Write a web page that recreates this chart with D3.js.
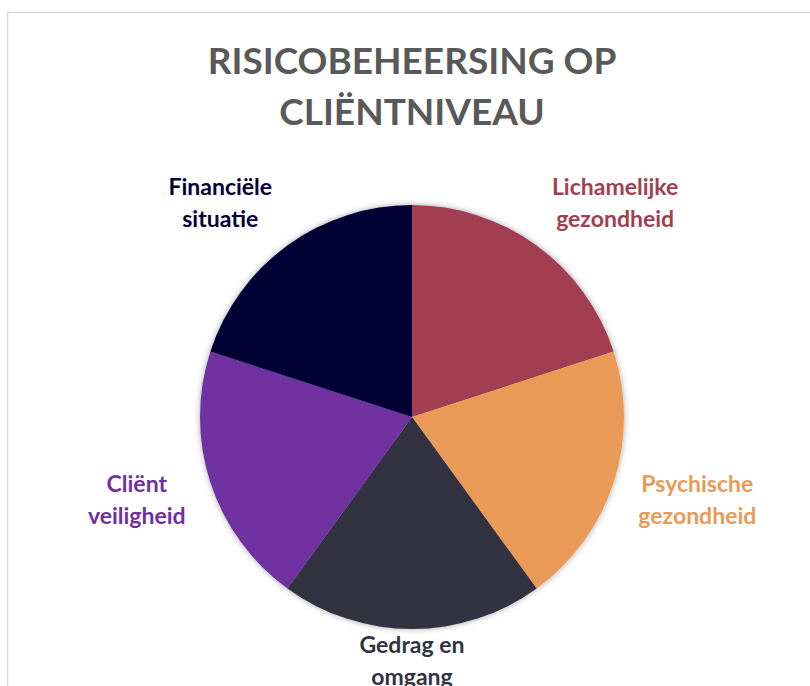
<!DOCTYPE html>
<html>

<head>
    <meta charset="utf-8">
    <title>Risicobeheersing op cliëntniveau</title>
    <script src="https://d3js.org/d3.v7.min.js"></script>
    <style>
        body { margin: 0; background: #fff; }
    </style>
</head>

<body>

    <svg width="810" height="686" id="mainSvg"></svg>
    <script>
        // data
        const titleLines = ["RISICOBEHEERSING OP", "CLIËNTNIVEAU"];
        const categories = [
            ["Lichamelijke", "gezondheid"],
            ["Psychische", "gezondheid"],
            ["Gedrag en", "omgang"],
            ["Cliënt", "veiligheid"],
            ["Financiële", "situatie"]
        ];
        const values = [1, 1, 1, 1, 1];
        const colors = ["#A33E51", "#E99A56", "#31333F", "#7030A0", "#000036"];

        const mainSvg = d3.select("#mainSvg");
        const width = +mainSvg.attr("width");
        const height = +mainSvg.attr("height");

        const cx = 412, cy = 417, radius = 212;
        const font = "Lato, 'Open Sans', sans-serif";

        // chart area border
        mainSvg.append("rect")
            .attr("x", 7.5).attr("y", 12.5)
            .attr("width", width).attr("height", height)
            .attr("fill", "#fff")
            .attr("stroke", "#d9d9d9")
            .attr("stroke-width", 1.5);

        // soft shadow around the pie
        const defs = mainSvg.append("defs");
        defs.append("filter")
            .attr("id", "shadow")
            .attr("x", "-10%").attr("y", "-10%")
            .attr("width", "120%").attr("height", "120%")
            .append("feDropShadow")
            .attr("dx", 0).attr("dy", 0)
            .attr("stdDeviation", 3)
            .attr("flood-color", "#000")
            .attr("flood-opacity", 0.35);

        // title
        mainSvg.append("text")
            .attr("text-anchor", "middle")
            .attr("font-family", font)
            .attr("font-weight", "bold")
            .attr("font-size", 37)
            .attr("fill", "#595959")
            .selectAll("tspan")
            .data(titleLines)
            .join("tspan")
            .attr("x", width / 2 + 7)
            .attr("y", (d, i) => 74 + i * 51)
            .text(d => d);

        const pie = d3.pie().sort(null).value(d => d);
        const arcs = pie(values);
        const arc = d3.arc().innerRadius(0).outerRadius(radius);

        const g = mainSvg.append("g")
            .attr("transform", `translate(${cx}, ${cy})`);

        g.append("g")
            .attr("filter", "url(#shadow)")
            .selectAll("path")
            .data(arcs)
            .join("path")
            .attr("d", arc)
            .attr("fill", (d, i) => colors[i]);

        // labels outside end
        const lineH = 32;
        const labels = g.selectAll(".label")
            .data(arcs)
            .join("text")
            .attr("class", "label")
            .attr("font-family", font)
            .attr("font-weight", "bold")
            .attr("font-size", 23)
            .attr("fill", (d, i) => colors[i]);

        labels.each(function (d, i) {
            const t = d3.select(this);
            const lines = categories[i];
            const mid = (d.startAngle + d.endAngle) / 2;
            const s = Math.sin(mid), c = Math.cos(mid);
            const pad = 26 * Math.min(1, Math.abs(s) * 3);
            const ax = (radius + pad) * s;
            const ay = -(radius + pad) * c;
            const tsp = t.selectAll("tspan").data(lines).join("tspan").text(l => l);
            const w = d3.max(tsp.nodes(), n => n.getComputedTextLength());
            const h = lines.length * lineH;
            const boxX = s > 0.2 ? ax : s < -0.2 ? ax - w : ax - w / 2;
            const boxY = ay - h * (1 + c) / 2 + (c > 0.2 ? 4 : 0);
            tsp.attr("x", boxX + w / 2)
                .attr("text-anchor", "middle")
                .attr("y", (l, j) => boxY + lineH / 2 + j * lineH)
                .attr("dy", "0.35em");
        });
    </script>
</body>

</html>
